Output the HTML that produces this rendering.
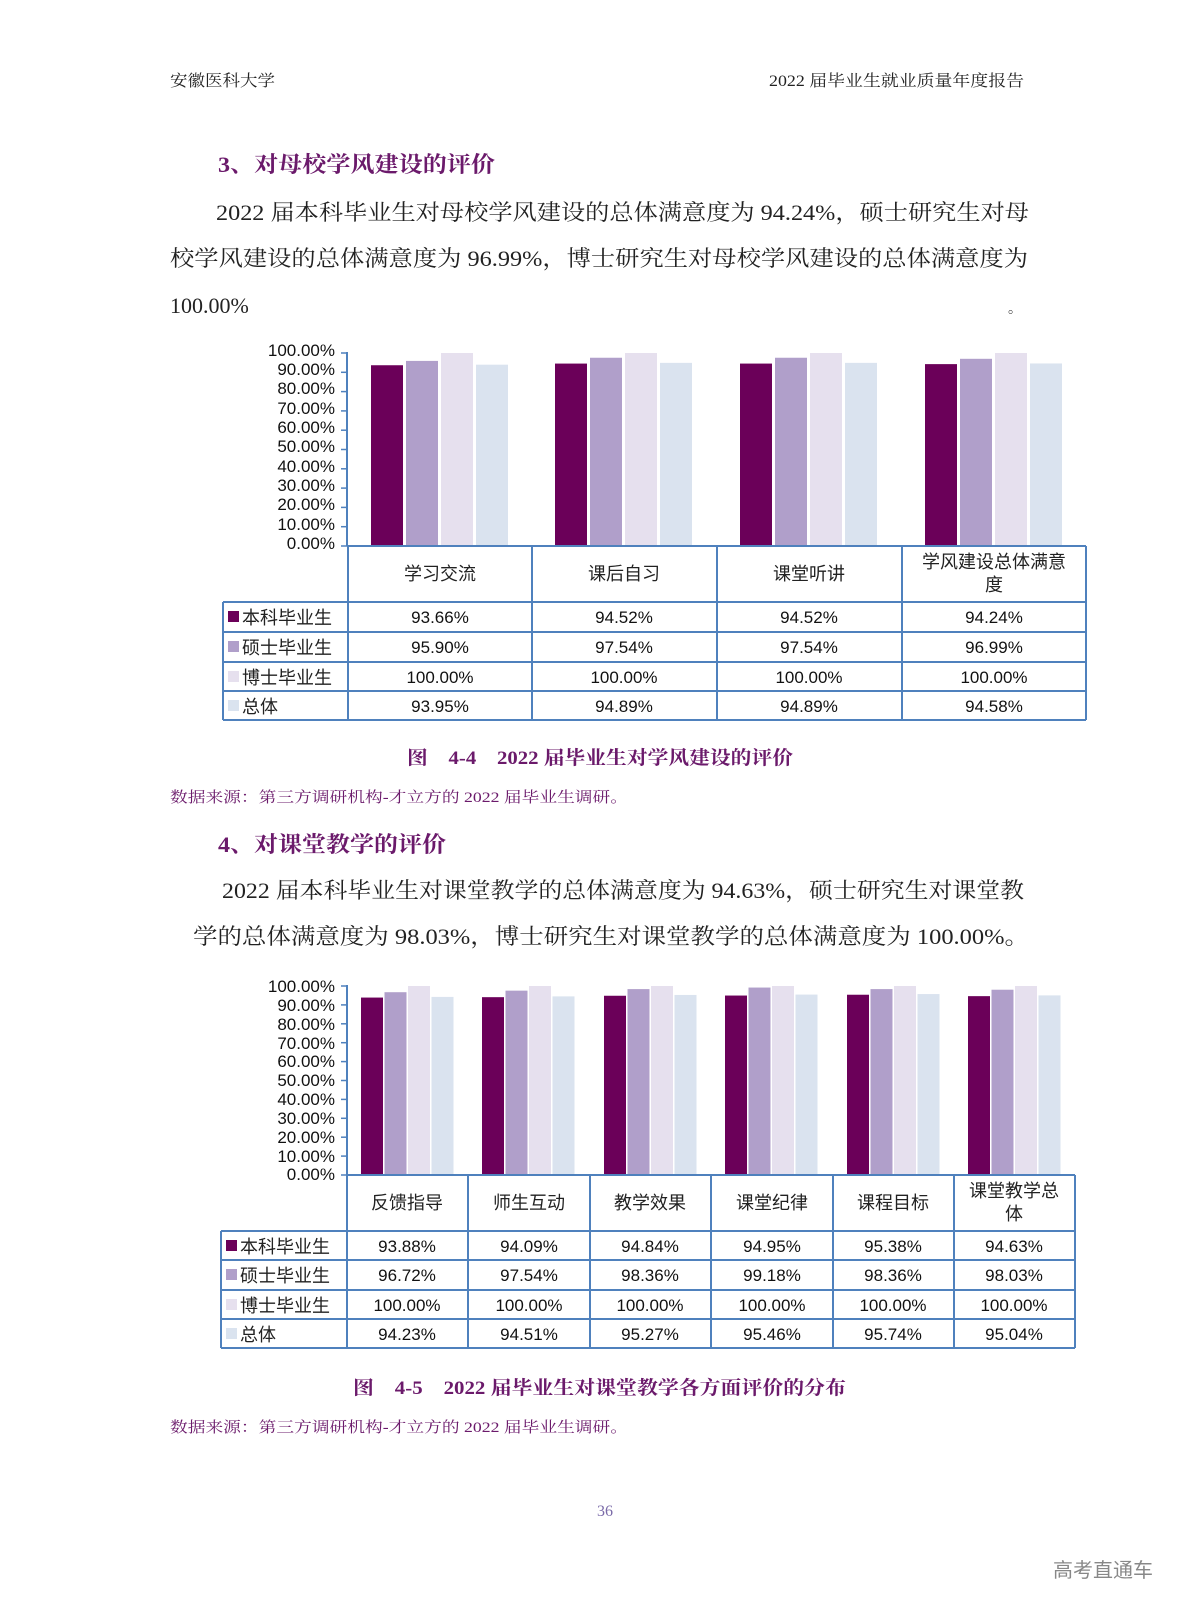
<!DOCTYPE html>
<html><head><meta charset="utf-8"><style>
html,body{margin:0;padding:0;background:#fff}
svg{display:block}
.s{font-family:"Liberation Serif","Noto Serif CJK SC",serif}
.a{font-family:"Liberation Sans","Noto Sans CJK SC",sans-serif}
</style></head><body>
<svg id="g" width="1190" height="1616" viewBox="0 0 1190 1616" xmlns="http://www.w3.org/2000/svg">
<g class="s" fill="#222">
<text x="170" y="86" font-size="16" textLength="105" lengthAdjust="spacingAndGlyphs">安徽医科大学</text>
<text x="769" y="86" font-size="16" textLength="255" lengthAdjust="spacingAndGlyphs">2022 届毕业生就业质量年度报告</text>
<text x="218" y="172" font-size="22" font-weight="bold" fill="#6b1a6b" textLength="277" lengthAdjust="spacingAndGlyphs">3、对母校学风建设的评价</text>
<text x="216" y="220" font-size="22" textLength="813" lengthAdjust="spacingAndGlyphs">2022 届本科毕业生对母校学风建设的总体满意度为 94.24%，硕士研究生对母</text>
<text x="170" y="266" font-size="22" textLength="858" lengthAdjust="spacingAndGlyphs">校学风建设的总体满意度为 96.99%，博士研究生对母校学风建设的总体满意度为</text>
<text x="170" y="313" font-size="22">100.00%</text>
<text x="1008" y="313" font-size="14">。</text>
<text x="407" y="764" font-size="19" font-weight="bold" fill="#6b1a6b" textLength="386" lengthAdjust="spacingAndGlyphs">图　4-4　2022 届毕业生对学风建设的评价</text>
<text x="170" y="802" font-size="15" fill="#6b1a6b" textLength="458" lengthAdjust="spacingAndGlyphs">数据来源：第三方调研机构-才立方的 2022 届毕业生调研。</text>
<text x="218" y="852" font-size="22" font-weight="bold" fill="#6b1a6b" textLength="228" lengthAdjust="spacingAndGlyphs">4、对课堂教学的评价</text>
<text x="222" y="898" font-size="22" textLength="802" lengthAdjust="spacingAndGlyphs">2022 届本科毕业生对课堂教学的总体满意度为 94.63%，硕士研究生对课堂教</text>
<text x="193" y="944" font-size="22" textLength="836" lengthAdjust="spacingAndGlyphs">学的总体满意度为 98.03%，博士研究生对课堂教学的总体满意度为 100.00%。</text>
<text x="353" y="1394" font-size="19" font-weight="bold" fill="#6b1a6b" textLength="493" lengthAdjust="spacingAndGlyphs">图　4-5　2022 届毕业生对课堂教学各方面评价的分布</text>
<text x="170" y="1432" font-size="15" fill="#6b1a6b" textLength="458" lengthAdjust="spacingAndGlyphs">数据来源：第三方调研机构-才立方的 2022 届毕业生调研。</text>
<text x="605" y="1516" font-size="16" fill="#7a6aa8" text-anchor="middle">36</text>
</g>
<text x="1103" y="1577" font-size="20" fill="#888" text-anchor="middle" class="a">高考直通车</text>

<g class="a" font-size="17" fill="#111" text-anchor="end">
<text x="335" y="356">100.00%</text><text x="335" y="375">90.00%</text><text x="335" y="394">80.00%</text><text x="335" y="414">70.00%</text><text x="335" y="433">60.00%</text><text x="335" y="452">50.00%</text><text x="335" y="472">40.00%</text><text x="335" y="491">30.00%</text><text x="335" y="510">20.00%</text><text x="335" y="530">10.00%</text><text x="335" y="549">0.00%</text>
</g>
<g class="a" font-size="18" fill="#222" text-anchor="middle">
<text x="440" y="580">学习交流</text><text x="624" y="580">课后自习</text><text x="809" y="580">课堂听讲</text>
<text x="994" y="568">学风建设总体满意</text><text x="994" y="591">度</text>
</g>
<g class="a" font-size="17" fill="#111" text-anchor="middle">
<text x="440" y="623">93.66%</text><text x="624" y="623">94.52%</text><text x="809" y="623">94.52%</text><text x="994" y="623">94.24%</text>
<text x="440" y="653">95.90%</text><text x="624" y="653">97.54%</text><text x="809" y="653">97.54%</text><text x="994" y="653">96.99%</text>
<text x="440" y="683">100.00%</text><text x="624" y="683">100.00%</text><text x="809" y="683">100.00%</text><text x="994" y="683">100.00%</text>
<text x="440" y="712">93.95%</text><text x="624" y="712">94.89%</text><text x="809" y="712">94.89%</text><text x="994" y="712">94.58%</text>
</g>
<g class="a" font-size="18" fill="#222">
<rect x="228" y="611" width="11" height="11" fill="#6b0059"/><text x="242" y="624">本科毕业生</text>
<rect x="228" y="641" width="11" height="11" fill="#b09fca"/><text x="242" y="654">硕士毕业生</text>
<rect x="228" y="671" width="11" height="11" fill="#e6e0ee"/><text x="242" y="684">博士毕业生</text>
<rect x="228" y="700" width="11" height="11" fill="#dae3ef"/><text x="242" y="713">总体</text>
</g>

<g class="a" font-size="17" fill="#111" text-anchor="end">
<text x="335" y="992">100.00%</text><text x="335" y="1011">90.00%</text><text x="335" y="1030">80.00%</text><text x="335" y="1049">70.00%</text><text x="335" y="1067">60.00%</text><text x="335" y="1086">50.00%</text><text x="335" y="1105">40.00%</text><text x="335" y="1124">30.00%</text><text x="335" y="1143">20.00%</text><text x="335" y="1162">10.00%</text><text x="335" y="1180">0.00%</text>
</g>
<g class="a" font-size="18" fill="#222" text-anchor="middle">
<text x="407" y="1209">反馈指导</text><text x="529" y="1209">师生互动</text><text x="650" y="1209">教学效果</text><text x="772" y="1209">课堂纪律</text><text x="893" y="1209">课程目标</text>
<text x="1014" y="1197">课堂教学总</text><text x="1014" y="1220">体</text>
</g>
<g class="a" font-size="17" fill="#111" text-anchor="middle">
<text x="407" y="1252">93.88%</text><text x="529" y="1252">94.09%</text><text x="650" y="1252">94.84%</text><text x="772" y="1252">94.95%</text><text x="893" y="1252">95.38%</text><text x="1014" y="1252">94.63%</text>
<text x="407" y="1281">96.72%</text><text x="529" y="1281">97.54%</text><text x="650" y="1281">98.36%</text><text x="772" y="1281">99.18%</text><text x="893" y="1281">98.36%</text><text x="1014" y="1281">98.03%</text>
<text x="407" y="1311">100.00%</text><text x="529" y="1311">100.00%</text><text x="650" y="1311">100.00%</text><text x="772" y="1311">100.00%</text><text x="893" y="1311">100.00%</text><text x="1014" y="1311">100.00%</text>
<text x="407" y="1340">94.23%</text><text x="529" y="1340">94.51%</text><text x="650" y="1340">95.27%</text><text x="772" y="1340">95.46%</text><text x="893" y="1340">95.74%</text><text x="1014" y="1340">95.04%</text>
</g>
<g class="a" font-size="18" fill="#222">
<rect x="226" y="1240" width="11" height="11" fill="#6b0059"/><text x="240" y="1253">本科毕业生</text>
<rect x="226" y="1269" width="11" height="11" fill="#b09fca"/><text x="240" y="1282">硕士毕业生</text>
<rect x="226" y="1299" width="11" height="11" fill="#e6e0ee"/><text x="240" y="1312">博士毕业生</text>
<rect x="226" y="1328" width="11" height="11" fill="#dae3ef"/><text x="240" y="1341">总体</text>
</g>
<g id="dyn"></g>
</svg>
<script>
var NS="http://www.w3.org/2000/svg",d=document.getElementById("dyn");
function el(t,a){var e=document.createElementNS(NS,t);for(var k in a)e.setAttribute(k,a[k]);d.appendChild(e);}
var C=["#6b0059","#b09fca","#e6e0ee","#dae3ef"],B="#4f81bd";
function chart(o){
 var y0=o.y0,ph=(o.y0-o.y100)/100;
 for(var i=0;i<o.data[0].length;i++){
  var cx=o.cols[i];
  for(var s=0;s<4;s++){var v=o.data[s][i],h=v*ph;
   el("rect",{x:cx+o.off+s*(o.bw+o.gap),y:y0-h,width:o.bw,height:h,fill:C[s]});}
 }
 el("line",{x1:o.ax,y1:o.y100-1,x2:o.ax,y2:y0,stroke:B,"stroke-width":2});
 for(var t=0;t<=10;t++){var y=y0-t*10*ph;el("line",{x1:o.ax-6,y1:y,x2:o.ax,y2:y,stroke:B,"stroke-width":1.5});}
 var L=o.cols[0],R=o.cols[o.cols.length-1];
 el("line",{x1:L,y1:y0,x2:R,y2:y0,stroke:B,"stroke-width":2});
 for(var r=0;r<o.rows.length;r++){el("line",{x1:o.lx,y1:o.rows[r],x2:R,y2:o.rows[r],stroke:B,"stroke-width":2});}
 var bot=o.rows[o.rows.length-1];
 for(var c=0;c<o.cols.length;c++){el("line",{x1:o.cols[c],y1:y0,x2:o.cols[c],y2:bot,stroke:B,"stroke-width":2});}
 el("line",{x1:o.lx,y1:o.rows[0],x2:o.lx,y2:bot,stroke:B,"stroke-width":2});
}
chart({y0:546,y100:353,ax:347,lx:223,cols:[348,532,717,902,1086],rows:[602,632,662,691,720],off:23,bw:32,gap:3,
 data:[[93.66,94.52,94.52,94.24],[95.90,97.54,97.54,96.99],[100,100,100,100],[93.95,94.89,94.89,94.58]]});
chart({y0:1175,y100:986,ax:347,lx:221,cols:[347,468,590,711,833,954,1075],rows:[1231,1260,1290,1319,1348],off:14,bw:22,gap:1.5,
 data:[[93.88,94.09,94.84,94.95,95.38,94.63],[96.72,97.54,98.36,99.18,98.36,98.03],[100,100,100,100,100,100],[94.23,94.51,95.27,95.46,95.74,95.04]]});
</script>
</body></html>
